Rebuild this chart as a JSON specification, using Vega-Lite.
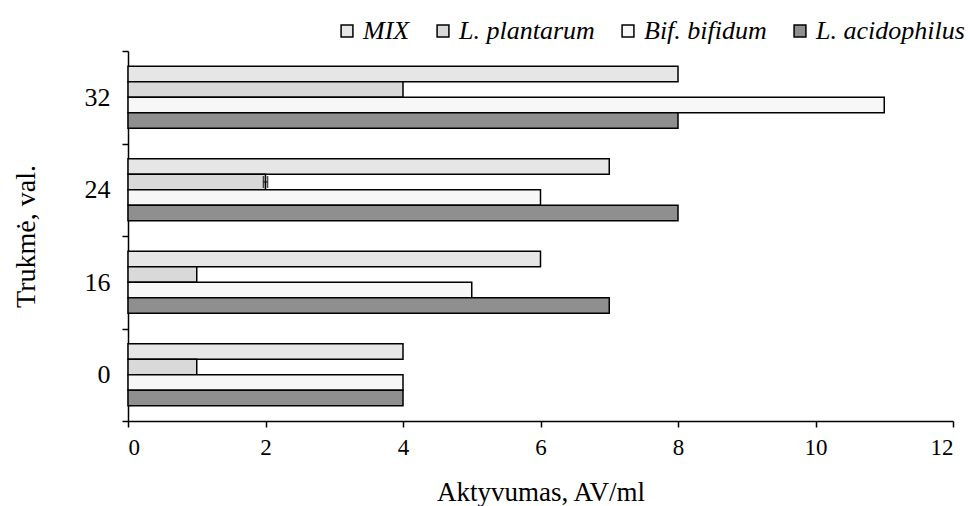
{
  "$schema": "https://vega.github.io/schema/vega-lite/v6.json",
  "autosize": "none",
  "width": 825,
  "height": 370,
  "padding": {"left": 128, "top": 51, "right": 17, "bottom": 85},
  "background": "white",
  "config": {
    "view": {"stroke": null},
    "font": "Liberation Serif",
    "axis": {"labelFont": "Liberation Serif", "titleFont": "Liberation Serif", "labelColor": "black", "titleColor": "black", "domainColor": "black", "tickColor": "black", "titleFontWeight": "normal", "domainWidth": 1.5, "tickWidth": 1.5}
  },
  "data": {
    "values": [
      {"time": "0", "series": "MIX", "value": 4, "err": 0, "lo": 4, "hi": 4},
      {"time": "0", "series": "L. plantarum", "value": 1, "err": 0, "lo": 1, "hi": 1},
      {"time": "0", "series": "Bif. bifidum", "value": 4, "err": 0, "lo": 4, "hi": 4},
      {"time": "0", "series": "L. acidophilus", "value": 4, "err": 0, "lo": 4, "hi": 4},
      {"time": "16", "series": "MIX", "value": 6, "err": 0, "lo": 6, "hi": 6},
      {"time": "16", "series": "L. plantarum", "value": 1, "err": 0, "lo": 1, "hi": 1},
      {"time": "16", "series": "Bif. bifidum", "value": 5, "err": 0, "lo": 5, "hi": 5},
      {"time": "16", "series": "L. acidophilus", "value": 7, "err": 0, "lo": 7, "hi": 7},
      {"time": "24", "series": "MIX", "value": 7, "err": 0, "lo": 7, "hi": 7},
      {"time": "24", "series": "L. plantarum", "value": 2, "err": 0.03, "lo": 1.97, "hi": 2.03},
      {"time": "24", "series": "Bif. bifidum", "value": 6, "err": 0, "lo": 6, "hi": 6},
      {"time": "24", "series": "L. acidophilus", "value": 8, "err": 0, "lo": 8, "hi": 8},
      {"time": "32", "series": "MIX", "value": 8, "err": 0, "lo": 8, "hi": 8},
      {"time": "32", "series": "L. plantarum", "value": 4, "err": 0, "lo": 4, "hi": 4},
      {"time": "32", "series": "Bif. bifidum", "value": 11, "err": 0, "lo": 11, "hi": 11},
      {"time": "32", "series": "L. acidophilus", "value": 8, "err": 0, "lo": 8, "hi": 8}
    ]
  },
  "encoding": {
    "y": {
      "field": "time", "type": "nominal",
      "sort": ["32", "24", "16", "0"],
      "scale": {"paddingInner": 0, "paddingOuter": 0},
      "axis": {
        "title": "Trukmė, val.", "titleFontSize": 28, "titlePadding": 44,
        "labelFontSize": 26, "labelPadding": 12, "tickBand": "extent",
        "tickSize": 6, "labelAngle": 0
      }
    },
    "yOffset": {
      "field": "series", "type": "nominal",
      "sort": ["MIX", "L. plantarum", "Bif. bifidum", "L. acidophilus"],
      "scale": {"paddingInner": 0, "paddingOuter": 0.98}
    }
  },
  "layer": [
    {
      "mark": {"type": "bar", "stroke": "black", "strokeWidth": 1.5},
      "encoding": {
        "x": {
          "field": "value", "type": "quantitative",
          "scale": {"domain": [0, 12]},
          "axis": {
            "title": "Aktyvumas, AV/ml", "titleFontSize": 27, "titlePadding": 20,
            "labelFontSize": 23, "labelPadding": 9, "grid": false, "labelOverlap": false,
            "tickSize": 6, "values": [0, 2, 4, 6, 8, 10, 12], "format": "d"
          }
        },
        "fill": {
          "field": "series", "type": "nominal",
          "sort": ["MIX", "L. plantarum", "Bif. bifidum", "L. acidophilus"],
          "scale": {"range": ["#e6e6e6", "#d9d9d9", "#f7f7f7", "#8f8f8f"]},
          "legend": {
            "title": null, "orient": "none", "direction": "horizontal", "columns": 4,
            "legendX": 206, "legendY": -33,
            "labelFont": "Liberation Serif", "labelFontStyle": "italic", "labelFontSize": 26,
            "labelColor": "black", "symbolType": "square", "symbolSize": 140,
            "symbolStrokeColor": "black", "symbolStrokeWidth": 1.5, "columnPadding": 20, "labelOffset": 3
          }
        }
      }
    },
    {
      "transform": [{"filter": "datum.err > 0"}],
      "mark": {"type": "rule", "color": "black", "strokeWidth": 1},
      "encoding": {
        "x": {"field": "lo", "type": "quantitative"},
        "x2": {"field": "hi"}
      }
    },
    {
      "transform": [{"filter": "datum.err > 0"}],
      "mark": {"type": "tick", "color": "black", "thickness": 1.5, "size": 12, "orient": "vertical"},
      "encoding": {
        "x": {"field": "lo", "type": "quantitative"}
      }
    },
    {
      "transform": [{"filter": "datum.err > 0"}],
      "mark": {"type": "tick", "color": "black", "thickness": 1.5, "size": 12, "orient": "vertical"},
      "encoding": {
        "x": {"field": "hi", "type": "quantitative"}
      }
    }
  ]
}
